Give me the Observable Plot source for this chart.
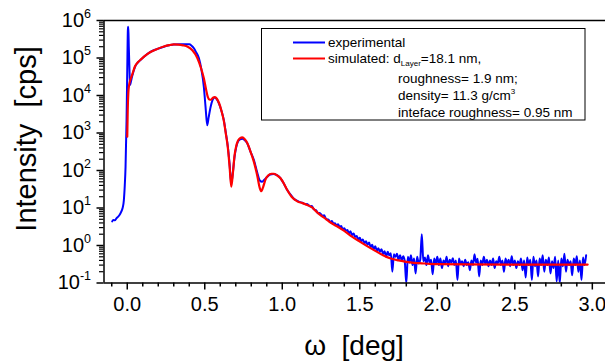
<!DOCTYPE html>
<html>
<head>
<meta charset="utf-8">
<script src="https://cdn.jsdelivr.net/npm/d3@7"></script>
<script src="https://cdn.jsdelivr.net/npm/@observablehq/plot@0.6"></script>
<style>
  html, body { margin: 0; padding: 0; background: #fff; }
  #chart svg { display: block; }
</style>
</head>
<body>
<div id="chart"></div>
<script>
// ---- data (omega [deg], intensity [cps]) ----
const experimental = [
  [-0.097, 4.4], [-0.09, 4.8], [-0.08, 4.7], [-0.07, 5.3], [-0.06, 5.8], [-0.05, 6.5],
  [-0.04, 7.8], [-0.03, 10], [-0.022, 16], [-0.016, 40], [-0.011, 125], [-0.0045, 2200],
  [0.0, 48000], [0.004, 560000], [0.006, 680000], [0.008, 450000], [0.010, 200000],
  [0.015, 39000], [0.018, 19000], [0.024, 24000], [0.032, 33000], [0.05, 58000],
  [0.07, 77000], [0.09, 92000], [0.11, 110000], [0.15, 145000], [0.19, 172000],
  [0.236, 200000], [0.27, 218000], [0.30, 230000], [0.35, 232000], [0.40, 231000],
  [0.415, 212000], [0.43, 182000], [0.445, 140000], [0.462, 100000], [0.478, 50000],
  [0.494, 17000], [0.505, 5000], [0.516, 1600], [0.525, 2600], [0.538, 5000],
  [0.55, 7500], [0.563, 8900], [0.577, 8000], [0.591, 6200], [0.607, 4000],
  [0.623, 2200], [0.636, 1000], [0.649, 430], [0.66, 150], [0.671, 45], [0.68, 80],
  [0.692, 230], [0.703, 420], [0.714, 590], [0.728, 680], [0.742, 700], [0.758, 640],
  [0.774, 530], [0.795, 320], [0.817, 190], [0.838, 90], [0.855, 54], [0.87, 50],
  [0.885, 57], [0.903, 68], [0.922, 78], [0.942, 81], [0.965, 75], [0.989, 62],
  [1.01, 45], [1.03, 31], [1.06, 21], [1.08, 17], [1.097, 15.5], [1.11, 14.5], [1.13, 13.8],
  [1.15, 12.5], [1.16, 12.8], [1.18, 11], [1.19, 11.3], [1.204, 9.2], [1.22, 8.6], [1.23, 7.2], [1.24, 7.4],
  [1.25, 6.8], [1.26, 6.1], [1.27, 6.4], [1.28, 5.3], [1.29, 5.0], [1.30, 4.8],
  [1.31, 4.2], [1.32, 4.5], [1.33, 3.8], [1.34, 3.9], [1.35, 3.4], [1.36, 3.7],
  [1.37, 3.1], [1.38, 3.3], [1.39, 2.7], [1.40, 2.9], [1.41, 2.5], [1.42, 2.6],
  [1.43, 2.1], [1.44, 2.4], [1.45, 1.9], [1.46, 2.1], [1.47, 1.7], [1.48, 1.8],
  [1.49, 1.45], [1.50, 1.6], [1.51, 1.3], [1.52, 1.45], [1.53, 1.15], [1.54, 1.3],
  [1.55, 1.05], [1.56, 1.2], [1.57, 0.9], [1.58, 1.05], [1.59, 0.8], [1.60, 0.95],
  [1.61, 0.72], [1.62, 0.85], [1.63, 0.68], [1.64, 0.8], [1.65, 0.6], [1.66, 0.7],
  [1.67, 0.5], [1.68, 0.68], [1.69, 0.55], [1.70, 0.62], [1.71, 0.2], [1.72, 0.58],
  [1.73, 0.5], [1.74, 0.6], [1.75, 0.42], [1.76, 0.55], [1.77, 0.4], [1.78, 0.52],
  [1.79, 0.38], [1.80, 0.1], [1.81, 0.5], [1.82, 0.35], [1.83, 0.55], [1.84, 0.3],
  [1.85, 0.45], [1.86, 0.18], [1.87, 0.5], [1.88, 0.33], [1.89, 0.42], [1.90, 2.0],
  [1.91, 0.38], [1.92, 0.48], [1.93, 0.3], [1.94, 0.55], [1.95, 0.35], [1.96, 0.42],
  [1.97, 0.17], [1.98, 0.45], [1.99, 0.32], [2.00, 0.5], [2.01, 0.3], [2.02, 0.45],
  [2.03, 0.25], [2.04, 0.4], [2.05, 0.33], [2.06, 0.5], [2.07, 0.28], [2.08, 0.42],
  [2.09, 0.35], [2.10, 0.46], [2.11, 0.3], [2.12, 0.4], [2.13, 0.12], [2.14, 0.45],
  [2.15, 0.32], [2.16, 0.38], [2.17, 0.28], [2.18, 0.42], [2.19, 0.3], [2.20, 0.36],
  [2.21, 0.22], [2.22, 0.4], [2.23, 0.3], [2.24, 0.58], [2.25, 0.35], [2.26, 0.44],
  [2.27, 0.15], [2.28, 0.4], [2.29, 0.3], [2.30, 0.5], [2.31, 0.32], [2.32, 0.42],
  [2.33, 0.28], [2.34, 0.4], [2.35, 0.3], [2.36, 0.45], [2.37, 0.25], [2.38, 0.38],
  [2.39, 0.33], [2.40, 0.5], [2.41, 0.3], [2.42, 0.4], [2.43, 0.2], [2.44, 0.45],
  [2.45, 0.32], [2.46, 0.42], [2.47, 0.28], [2.48, 0.52], [2.49, 0.3], [2.50, 0.4],
  [2.51, 0.25], [2.52, 0.38], [2.53, 0.3], [2.54, 0.45], [2.55, 0.22], [2.56, 0.4],
  [2.57, 0.14], [2.58, 0.48], [2.59, 0.3], [2.60, 0.42], [2.61, 0.12], [2.62, 0.5],
  [2.63, 0.28], [2.64, 0.4], [2.65, 0.15], [2.66, 0.45], [2.67, 0.3], [2.68, 0.55],
  [2.69, 0.2], [2.70, 0.42], [2.71, 0.3], [2.72, 0.48], [2.73, 0.18], [2.74, 0.38],
  [2.75, 0.25], [2.76, 0.5], [2.77, 0.11], [2.78, 0.4], [2.79, 0.1], [2.80, 0.45],
  [2.81, 0.28], [2.82, 0.6], [2.83, 0.2], [2.84, 0.42], [2.85, 0.3], [2.86, 0.38],
  [2.87, 0.16], [2.88, 0.45], [2.89, 0.3], [2.90, 0.52], [2.91, 0.2], [2.92, 0.4],
  [2.93, 0.12], [2.94, 0.48], [2.95, 0.3], [2.96, 0.55]
];

const simulated = [
  [0.000, 800], [0.003, 4000], [0.007, 12000], [0.012, 19000], [0.02, 26000],
  [0.032, 36000], [0.05, 60000], [0.07, 78000], [0.09, 93000], [0.11, 110000],
  [0.15, 145000], [0.19, 172000], [0.236, 202000], [0.27, 220000], [0.30, 230000],
  [0.33, 228000], [0.36, 218000], [0.39, 200000], [0.42, 160000], [0.452, 100000],
  [0.475, 55000], [0.494, 29000], [0.51, 13500], [0.52, 9000], [0.53, 7800],
  [0.54, 7700], [0.553, 8700], [0.565, 9000], [0.578, 8200], [0.592, 6300],
  [0.607, 4000], [0.623, 2100], [0.636, 950], [0.649, 400], [0.66, 130],
  [0.671, 37], [0.682, 90], [0.692, 250], [0.703, 450], [0.715, 630], [0.728, 730],
  [0.742, 760], [0.758, 680], [0.774, 540], [0.795, 320], [0.817, 170], [0.838, 75],
  [0.855, 34], [0.865, 28], [0.878, 38], [0.892, 58], [0.91, 75], [0.93, 82],
  [0.945, 82], [0.965, 75], [0.989, 62], [1.01, 45], [1.03, 31], [1.06, 20],
  [1.097, 15], [1.13, 13.5], [1.16, 12], [1.19, 10.5], [1.22, 8], [1.25, 6.3],
  [1.28, 5.1], [1.30, 4.4], [1.35, 3.3], [1.40, 2.45], [1.45, 1.72], [1.50, 1.27],
  [1.55, 0.95], [1.60, 0.72], [1.65, 0.55], [1.70, 0.45], [1.75, 0.40], [1.80, 0.365],
  [1.85, 0.345], [1.90, 0.335], [1.95, 0.325], [2.00, 0.32], [2.20, 0.315],
  [2.50, 0.31], [2.97, 0.31]
];

const majorX = [0.0, 0.5, 1.0, 1.5, 2.0, 2.5, 3.0];
const minorX = [-0.1, 0.1, 0.2, 0.3, 0.4, 0.6, 0.7, 0.8, 0.9, 1.1, 1.2, 1.3, 1.4,
  1.6, 1.7, 1.8, 1.9, 2.1, 2.2, 2.3, 2.4, 2.6, 2.7, 2.8, 2.9];
const majorY = [1e-1, 1e0, 1e1, 1e2, 1e3, 1e4, 1e5, 1e6];
const minorMultipliers = [2, 3, 4, 5, 6, 7, 8, 9];
const xDomain = [-0.15, 3.085];
const yDomain = [0.1, 1e6];

const xTitle = "ω  [deg]";
const yTitle = "Intensity  [cps]";
const legendLabels = ["experimental", "simulated: d"];
const legendSub = "Layer";
const legendRest = ["=18.1 nm,", "roughness= 1.9 nm;", "density= 11.3 g/cm", "inteface roughness= 0.95 nm"];

// ---- build ----
const minorY = majorY.slice(0, -1).flatMap(d => minorMultipliers.map(m => d * m));
const expRows = experimental.map(([x, y]) => ({x, y}));
const simRows = simulated.map(([x, y]) => ({x, y}));
const FONT = "'Liberation Sans', Arial, Helvetica, sans-serif";

const chart = Plot.plot({
  width: 605,
  height: 362,
  marginTop: 20,
  marginBottom: 79.5,
  marginLeft: 103.5,
  marginRight: 0,
  style: {fontFamily: FONT, background: "#fff", color: "#000"},
  x: {domain: xDomain},
  y: {type: "log", domain: yDomain},
  marks: [
    Plot.axisX({ticks: minorX, tickSize: 4, strokeWidth: 1.5, tickFormat: () => "", label: null}),
    Plot.axisX({ticks: majorX, tickSize: 7, strokeWidth: 1.5, tickPadding: 7, fontSize: 20,
      tickFormat: d => d.toFixed(1), label: null}),
    Plot.axisY({ticks: minorY, tickSize: 4.5, strokeWidth: 1.2, tickFormat: () => "", label: null}),
    Plot.axisY({ticks: majorY, tickSize: 7, strokeWidth: 1.5, tickPadding: 6, fontSize: 20,
      tickFormat: d => String(Math.round(Math.log10(d))), label: null}),
    Plot.line(expRows, {x: "x", y: "y", stroke: "#0000ff", strokeWidth: 2, curve: "monotone-x", clip: true}),
    Plot.line(simRows, {x: "x", y: "y", stroke: "#ff0000", strokeWidth: 2.2, curve: "monotone-x", clip: true}),
    Plot.ruleY([yDomain[1]], {stroke: "#000", strokeWidth: 1.5}),
    Plot.ruleY([yDomain[0]], {stroke: "#000", strokeWidth: 1.5}),
    Plot.ruleX([xDomain[0]], {stroke: "#000", strokeWidth: 1.5})
  ]
});
document.getElementById("chart").appendChild(chart);

const svg = d3.select(chart);

// superscript exponents on the y tick labels
svg.selectAll('g[aria-label="y-axis tick label"] text').each(function () {
  const t = this.textContent;
  if (!t) return;
  const s = d3.select(this);
  s.text("10");
  s.append("tspan").attr("dy", -9).attr("font-size", 12.5).text(t);
});

// axis titles
svg.append("text")
  .attr("transform", "translate(36,139) rotate(-90)")
  .attr("text-anchor", "middle")
  .attr("font-family", FONT).attr("font-size", 29).attr("fill", "#000")
  .style("white-space", "pre")
  .text(yTitle);
svg.append("text")
  .attr("x", 354).attr("y", 355)
  .attr("text-anchor", "middle")
  .attr("font-family", FONT).attr("font-size", 28).attr("fill", "#000")
  .style("white-space", "pre")
  .text(xTitle);

// legend
const lg = svg.append("g").attr("font-family", FONT).attr("font-size", 13.5)
  .attr("fill", "#000").attr("text-anchor", "start");
lg.append("rect").attr("x", 261.5).attr("y", 28.5).attr("width", 323.5).attr("height", 91.5)
  .attr("fill", "#fff").attr("stroke", "#000").attr("stroke-width", 1);
lg.append("line").attr("x1", 293).attr("x2", 325).attr("y1", 42.5).attr("y2", 42.5)
  .attr("stroke", "#0000ff").attr("stroke-width", 2);
lg.append("line").attr("x1", 293).attr("x2", 325).attr("y1", 58.5).attr("y2", 58.5)
  .attr("stroke", "#ff0000").attr("stroke-width", 2);
lg.append("text").attr("x", 328).attr("y", 47).text(legendLabels[0]);
const t2 = lg.append("text").attr("x", 328).attr("y", 63).text(legendLabels[1]);
t2.append("tspan").attr("dy", 3).attr("font-size", 8).text(legendSub);
t2.append("tspan").attr("dy", -3).text(legendRest[0]);
lg.append("text").attr("x", 398).attr("y", 83).text(legendRest[1]);
const t4 = lg.append("text").attr("x", 398).attr("y", 100).text(legendRest[2]);
t4.append("tspan").attr("dy", -6).attr("font-size", 8).text("3");
lg.append("text").attr("x", 398).attr("y", 117).text(legendRest[3]);
</script>
</body>
</html>
